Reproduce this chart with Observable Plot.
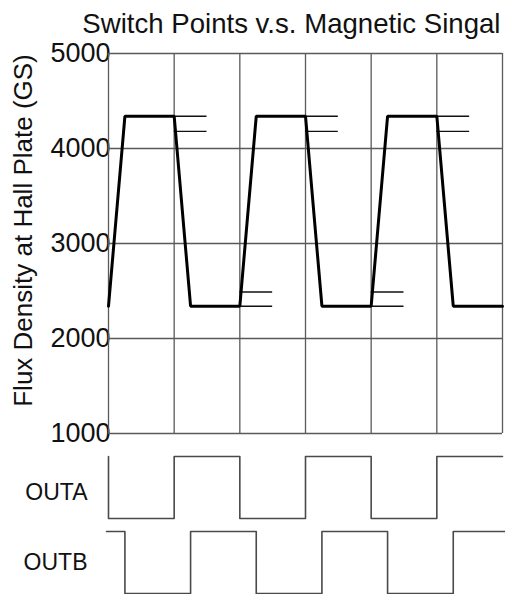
<!DOCTYPE html>
<html>
<head>
<meta charset="utf-8">
<script src="https://cdn.jsdelivr.net/npm/d3@7"></script>
<script src="https://cdn.jsdelivr.net/npm/@observablehq/plot@0.6"></script>
<style>
  html, body { margin: 0; padding: 0; background: #fff; }
  #chart { width: 505px; height: 594px; overflow: hidden; }
  #chart svg { display: block; overflow: visible; }
</style>
</head>
<body>
<div id="chart"></div>
<script>
// ---- data ----
const title = "Switch Points v.s. Magnetic Singal";
const yLabel = "Flux Density at Hall Plate (GS)";
const yTicks = [1000, 2000, 3000, 4000, 5000];
const xGrid = [0, 1, 2, 3, 4, 5, 6];

// magnetic signal (time in grid divisions, flux in GS)
const fluxTime  = [0, 0.25, 1.0, 1.25, 2.0, 2.25, 3.0, 3.25, 4.0, 4.25, 5.0, 5.25, 6.0];
const fluxValue = [2340, 4340, 4340, 2340, 2340, 4340, 4340, 2340, 2340, 4340, 4340, 2340, 2340];

// switch point markers
const bopLevels = [4340, 4180];
const bopStarts = [1, 3, 5];
const brpLevels = [2490, 2340];
const brpStarts = [2, 4];
const markerLength = 0.5;

// digital outputs (step-after)
const outATime  = [0, 0, 1, 2, 3, 4, 5, 6];
const outAValue = [1, 0, 1, 0, 1, 0, 1, 1];
const outBTime  = [-0.03, 0.25, 1.25, 2.25, 3.25, 4.25, 5.25, 6.05];
const outBValue = [1, 0, 1, 0, 1, 0, 1, 1];
const outNames = ["OUTA", "OUTB"];

// ---- build tables ----
const flux = fluxTime.map((t, i) => ({t, v: fluxValue[i]}));
const markers = [];
for (const s of bopStarts) for (const l of bopLevels) markers.push({x1: s, x2: s + markerLength, y: l});
for (const s of brpStarts) for (const l of brpLevels) markers.push({x1: s, x2: s + markerLength, y: l});

const signals = [
  ...outATime.map((t, i) => ({name: "OUTA", t, v: outAValue[i]})),
  ...outBTime.map((t, i) => ({name: "OUTB", t, v: outBValue[i]}))
];

const FONT = "'Liberation Sans', Arial, Helvetica, sans-serif";
const GRID = "#5a5a5a";

const main = Plot.plot({
  width: 505,
  height: 445,
  marginLeft: 108,
  marginRight: 3,
  marginTop: 53,
  marginBottom: 12,
  style: {fontFamily: FONT, background: "transparent", overflow: "visible"},
  x: {domain: [0, 6], axis: null},
  y: {domain: [1000, 5000], ticks: yTicks, tickSize: 0, tickPadding: -2, tickFormat: d => String(d), label: null},
  marks: [
    Plot.ruleY(yTicks, {x1: 0, x2: 6, stroke: GRID, strokeWidth: 1.3}),
    Plot.ruleX(xGrid, {y1: 1000, y2: 5000, stroke: GRID, strokeWidth: 1.3}),
    Plot.ruleY(markers, {x1: "x1", x2: "x2", y: "y", stroke: "#111", strokeWidth: 1.4}),
    Plot.line(flux, {x: "t", y: "v", stroke: "#000", strokeWidth: 3, strokeLinejoin: "miter"}),
    Plot.text([title], {frameAnchor: "top-right", text: d => d, dy: -29, dx: -2, textAnchor: "end", lineAnchor: "middle", fontSize: 27.6, fill: "#111"}),
    Plot.text([yLabel], {frameAnchor: "left", text: d => d, rotate: -90, dx: -85, dy: -13, textAnchor: "middle", lineAnchor: "middle", fontSize: 26, fill: "#111"})
  ]
});
main.querySelectorAll("g[aria-label='y-axis tick label'] text, g[aria-label='y-axis'] text").forEach(t => {
  t.setAttribute("font-size", "27");
  t.style.fontSize = "27px";
  t.setAttribute("fill", "#111");
});

const sig = Plot.plot({
  width: 505,
  height: 149,
  marginLeft: 108,
  marginRight: 3,
  marginTop: 10,
  marginBottom: 0,
  style: {fontFamily: FONT, background: "transparent", overflow: "visible"},
  facet: {data: signals, y: "name", label: null},
  fy: {domain: outNames, paddingInner: 0.17, paddingOuter: 0, tickSize: 0, tickPadding: 21, label: null},
  x: {domain: [0, 6], axis: null},
  y: {domain: [0, 1], axis: null},
  marks: [
    Plot.line(signals, {x: "t", y: "v", z: "name", curve: "step-after", stroke: "#4a4a4a", strokeWidth: 1.6})
  ]
});
sig.querySelectorAll("g[aria-label='fy-axis tick label'] text, g[aria-label='fy-axis'] text").forEach(t => {
  t.setAttribute("font-size", "23");
  t.style.fontSize = "23px";
  t.setAttribute("fill", "#111");
});
const fyLabels = sig.querySelectorAll("g[aria-label='fy-axis tick label'] text");
if (fyLabels.length) {
  const first = fyLabels[0];
  const prev = first.getAttribute("dy");
  first.setAttribute("transform", (first.getAttribute("transform") || "") + " translate(0,5)");
}

const c = document.getElementById("chart");
c.appendChild(main);
c.appendChild(sig);
</script>
</body>
</html>
